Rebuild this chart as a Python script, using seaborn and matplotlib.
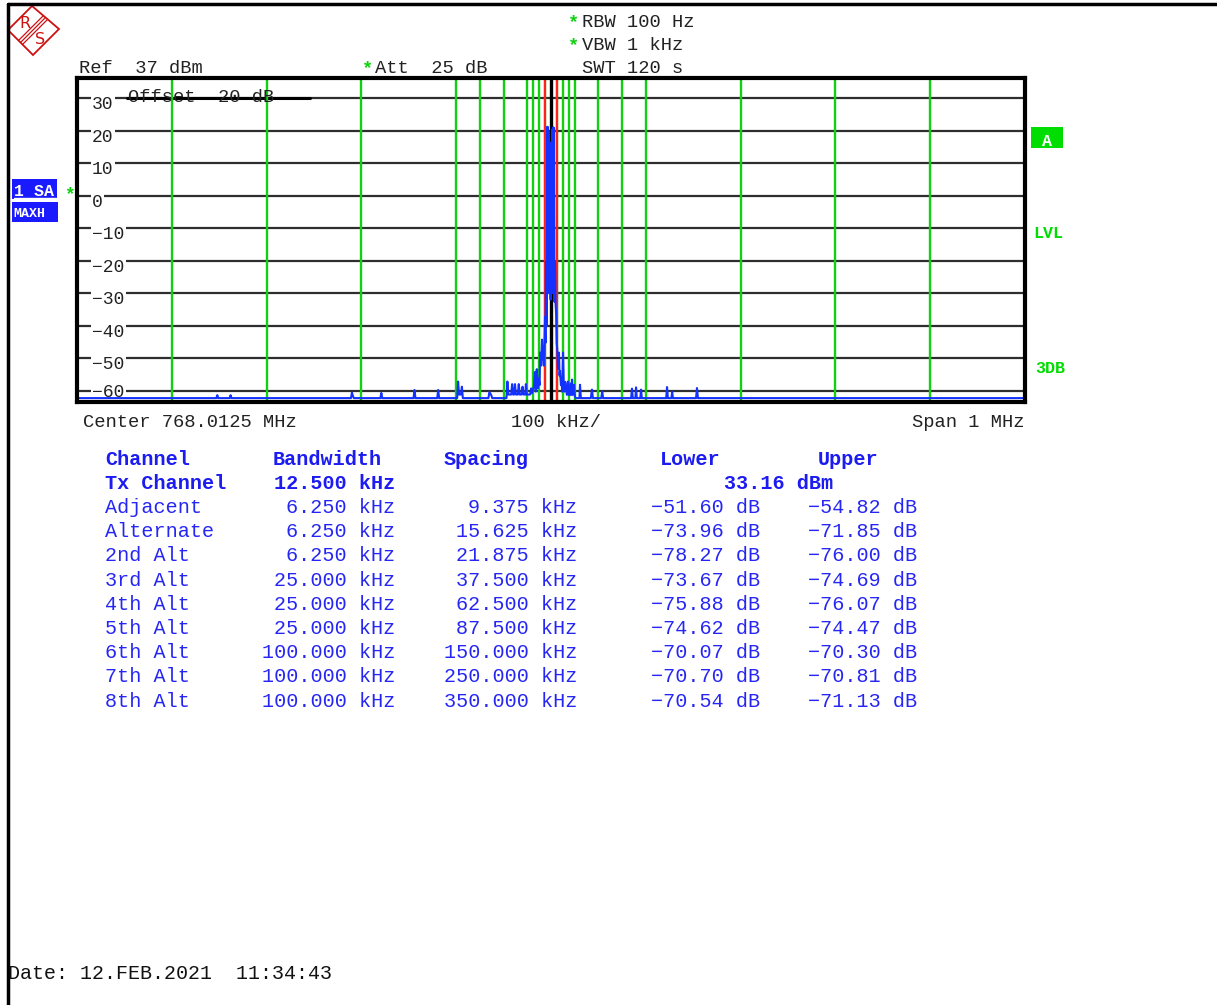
import matplotlib
matplotlib.use("Agg")
import matplotlib.pyplot as plt
from matplotlib.patches import Polygon, Rectangle
from matplotlib.lines import Line2D
import seaborn as sns

# ---------------- data ----------------
center_mhz = 768.0125
span_khz = 1000
y_ticks = [30, 20, 10, 0, -10, -20, -30, -40, -50, -60]
ref_text = "Ref  37 dBm"
att_text = "Att  25 dB"
offset_text = "Offset  20 dB"
rbw_text = "RBW 100 Hz"
vbw_text = "VBW 1 kHz"
swt_text = "SWT 120 s"
date_text = "Date: 12.FEB.2021  11:34:43"

# max-hold trace (offset from centre in kHz, level in dBm)
trace_khz = [
    -500, -353, -352, -351, -339, -338, -337,
    -211, -210, -209, -208, -180, -179, -178,
    -145, -144, -143, -120, -119, -118,
    -99, -98, -97, -95, -94, -93,
    -66, -65, -63, -62,
    -47, -46, -45, -42, -41, -40, -39, -38, -37, -35, -34, -33, -31, -30, -29, -27, -26.5, -25.5,
    -22, -21, -20, -18, -17, -16, -15, -14, -13, -12, -11.5, -10.5, -9.5, -8.8, -8.4, -7.6, -7.0, -6.3, -5.8, -5.3, -4.8, -4.3,
    -3.9, -3.5, -3.2, -2.8, -2.4, -2.0, -1.6, -1.2, -0.8, -0.4, 0.0, 0.4, 0.8, 1.2, 1.6, 2.0, 2.4, 2.8, 3.2, 3.6,
    4.2, 4.8, 5.4, 6.0, 6.6, 7.4, 8.4, 9.0, 9.5, 10.5, 11.0, 11.8, 12.7, 13.5, 14.2, 15.0, 15.8, 16.8, 17.9, 18.8, 20.0, 20.8, 21.5, 22.2, 23.0, 24.3, 25.2, 26.0,
    30.0, 30.6, 31.5, 42.0, 43.2, 44.2, 53.0, 54.0, 55.0,
    84.5, 85.4, 86.3, 89.0, 89.7, 90.5, 94.2, 95.0, 95.8,
    121.5, 122.4, 123.3, 127.0, 127.8, 128.6, 153.0, 154.0, 155.0, 500,
]
trace_dbm = [
    -62.3, -62.3, -61.4, -62.3, -62.3, -61.4, -62.3,
    -62.3, -60.6, -61.6, -62.3, -62.3, -60.7, -62.3,
    -62.3, -59.8, -62.3, -62.3, -59.8, -62.3,
    -62.3, -57.2, -61.2, -61.2, -58.8, -62.3,
    -62.3, -60.4, -61.4, -62.3,
    -62.3, -57.2, -61.2, -61.2, -58.0, -61.2, -61.2, -58.0, -61.2, -61.2, -58.0, -61.2, -61.2, -58.8, -61.2, -61.2, -58.0, -61.2,
    -61.2, -59.3, -60.8, -58.8, -54.3, -60.3, -53.4, -59.3, -56.3, -58.3, -48.3, -52.3, -44.3, -50.3, -46.3, -52.3, -46.3, -37.3, -45.3, -20.3, -40.3, -28.3,
    21.2, -25.0, 21.0, -20.0, 19.5, -30.0, 16.5, -28.0, 13.8, -32.0, 13.5, -25.0, 15.5, -30.0, 20.5, -22.0, 21.0, -28.0, 20.8, -32.6,
    -20.3, -33.0, -36.3, -45.3, -47.3, -53.3, -48.3, -55.3, -54.0, -58.3, -56.4, -60.3, -48.3, -58.3, -60.3, -57.3, -59.3, -61.3, -57.2, -61.3, -61.3, -57.8, -61.3, -56.6, -61.3, -58.2, -61.8, -62.3,
    -62.3, -58.2, -62.3, -62.3, -59.7, -62.3, -62.3, -60.3, -62.3,
    -62.3, -59.4, -62.3, -62.3, -59.0, -62.3, -62.3, -59.7, -62.3,
    -62.3, -58.9, -62.3, -62.3, -60.4, -62.3, -62.3, -59.2, -62.3, -62.3,
]
assert len(trace_khz) == len(trace_dbm)

channel_names = ["Tx Channel", "Adjacent", "Alternate", "2nd Alt", "3rd Alt",
                 "4th Alt", "5th Alt", "6th Alt", "7th Alt", "8th Alt"]
bandwidth_khz = [12.5, 6.25, 6.25, 6.25, 25.0, 25.0, 25.0, 100.0, 100.0, 100.0]
spacing_khz = [0.0, 9.375, 15.625, 21.875, 37.5, 62.5, 87.5, 150.0, 250.0, 350.0]
lower_db = [-51.60, -73.96, -78.27, -73.67, -75.88, -74.62, -70.07, -70.70, -70.54]
upper_db = [-54.82, -71.85, -76.00, -74.69, -76.07, -74.47, -70.30, -70.81, -71.13]
tx_power_dbm = 33.16

# ---------------- style ----------------
sns.set_theme(style="white")
MONO = ["Liberation Mono", "DejaVu Sans Mono"]
plt.rcParams["font.family"] = MONO

W, H = 1217, 1005
fig = plt.figure(figsize=(W / 100, H / 100), dpi=100)
fig.patch.set_facecolor("white")


def fx(x):
    return x / W


def fy(y):
    return 1 - y / H


def ftext(x, y, s, **kw):
    kw.setdefault("va", "baseline")
    kw.setdefault("family", MONO)
    return fig.text(fx(x), fy(y), s, **kw)


def mstr(s):
    return s.replace("-", "\u2212")


GREEN = "#10d010"
RED = "#ff2020"
BLUE = "#1432ff"
TBLUE = "#1c1cf0"
GRID = "#2e2e2e"

ax = fig.add_axes([fx(77), fy(402), 948 / W, 324 / H])
ax.set_xlim(-span_khz / 2, span_khz / 2)
ax.set_ylim(-63.5, 36.2)
ax.set_xticks([])
ax.set_yticks([])
ax.set_facecolor("white")
for s in ax.spines.values():
    s.set_linewidth(3)
    s.set_color("black")
    s.set_zorder(10)

for v in y_ticks:
    ax.axhline(v, color=GRID, lw=1.6, zorder=1)
ax.axhline(30, xmin=(127 - 77) / 948, xmax=(310 - 77) / 948, color="black", lw=2.2, zorder=2)

# channel edges from spacing / bandwidth
edges = set()
for sp, bw in zip(spacing_khz[1:], bandwidth_khz[1:]):
    edges.add(sp - bw / 2)
    edges.add(sp + bw / 2)
for e in sorted(edges):
    ax.axvline(e, color=GREEN, lw=1.7, zorder=2)
    ax.axvline(-e, color=GREEN, lw=1.7, zorder=2)
tx_half = bandwidth_khz[0] / 2
ax.axvline(-tx_half, color=RED, lw=1.6, zorder=3)
ax.axvline(tx_half, color=RED, lw=1.6, zorder=3)
ax.axvline(0, color="black", lw=2.4, zorder=3)

sns.lineplot(x=trace_khz, y=trace_dbm, ax=ax, estimator=None, sort=False,
             color=BLUE, lw=1.5, zorder=6)

# y labels inside the plot
for v in y_ticks:
    off = 1.9 if v == y_ticks[-1] else 3.4
    ax.text(-484, v - off, mstr(str(v)), fontsize=13, family=MONO, va="baseline",
            ha="left", color="#222222", zorder=4,
            bbox=dict(facecolor="white", edgecolor="none", pad=1.0))
ax.text(-446, 30 - 1.2, offset_text, fontsize=13.5, family=MONO, va="baseline",
        ha="left", color="#222222", zorder=4)

# header
ftext(79, 73, ref_text, fontsize=13.5, color="#222222")
ftext(362, 73, "*", fontsize=13.5, color=GREEN, weight="bold")
ftext(375, 73, att_text, fontsize=13.5, color="#222222")
ftext(568, 27, "*", fontsize=13.5, color=GREEN, weight="bold")
ftext(582, 27, rbw_text, fontsize=13.5, color="#222222")
ftext(568, 50, "*", fontsize=13.5, color=GREEN, weight="bold")
ftext(582, 50, vbw_text, fontsize=13.5, color="#222222")
ftext(582, 73, swt_text, fontsize=13.5, color="#222222")

# x labels
ftext(83, 427, f"Center {center_mhz} MHz", fontsize=13.5, color="#222222")
ftext(511, 427, f"{span_khz / 10:.0f} kHz/", fontsize=13.5, color="#222222")
ftext(1025, 427, f"Span {span_khz / 1000:.0f} MHz", fontsize=13.5, color="#222222", ha="right")

# left trace indicators
fig.add_artist(Rectangle((fx(12), fy(199)), 45 / W, 20 / H, transform=fig.transFigure,
                         facecolor="#1a1aff", edgecolor="none"))
fig.add_artist(Rectangle((fx(12), fy(222)), 46 / W, 20 / H, transform=fig.transFigure,
                         facecolor="#1a1aff", edgecolor="none"))
ftext(14, 196, "1 SA", fontsize=12, color="white", weight="bold")
fig.add_artist(Line2D([fx(14), fx(56)], [fy(198), fy(198)], transform=fig.transFigure,
                      color="white", lw=1))
ftext(13, 217, "MAXH", fontsize=9.5, color="white", weight="bold")
ftext(64, 199, "*", fontsize=13, color=GREEN, weight="bold")

# right side indicators
fig.add_artist(Rectangle((fx(1031), fy(148)), 32 / W, 21 / H, transform=fig.transFigure,
                         facecolor="#00dd00", edgecolor="none"))
ftext(1047, 146, "A", fontsize=12, color="white", weight="bold", ha="center")
ftext(1033, 238, "LVL", fontsize=12, color="#00dd00", weight="bold")
ftext(1035, 373, "3DB", fontsize=12, color="#00dd00", weight="bold")

# channel power table
TS = 14.5
ftext(105, 465, "Channel", fontsize=TS, color=TBLUE, weight="bold")
ftext(273, 465, "Bandwidth", fontsize=TS, color=TBLUE, weight="bold")
ftext(444, 465, "Spacing", fontsize=TS, color=TBLUE, weight="bold")
ftext(660, 465, "Lower", fontsize=TS, color=TBLUE, weight="bold")
ftext(818, 465, "Upper", fontsize=TS, color=TBLUE, weight="bold")
ftext(105, 489, channel_names[0], fontsize=TS, color=TBLUE, weight="bold")
ftext(395, 489, f"{bandwidth_khz[0]:.3f} kHz", fontsize=TS, color=TBLUE, weight="bold", ha="right")
ftext(833, 489, f"{tx_power_dbm:.2f} dBm", fontsize=TS, color=TBLUE, weight="bold", ha="right")
for i in range(1, len(channel_names)):
    yb = 513 + 24.2 * (i - 1)
    ftext(105, yb, channel_names[i], fontsize=TS, color="#2626f4")
    ftext(395, yb, f"{bandwidth_khz[i]:.3f} kHz", fontsize=TS, color="#2626f4", ha="right")
    ftext(577, yb, f"{spacing_khz[i]:.3f} kHz", fontsize=TS, color="#2626f4", ha="right")
    ftext(760, yb, mstr(f"{lower_db[i - 1]:.2f} dB"), fontsize=TS, color="#2626f4", ha="right")
    ftext(917, yb, mstr(f"{upper_db[i - 1]:.2f} dB"), fontsize=TS, color="#2626f4", ha="right")

# date
ftext(8, 979, date_text, fontsize=14.4, color="#111111")

# outer frame
fig.add_artist(Line2D([fx(8), fx(1217)], [fy(4), fy(4)], transform=fig.transFigure,
                      color="black", lw=2.5))
fig.add_artist(Line2D([fx(8), fx(8)], [fy(4), fy(1005)], transform=fig.transFigure,
                      color="black", lw=2.5))

# R&S logo
LR = "#cc1111"
diamond = [(8, 30), (32, 6), (59, 29), (33, 55)]
fig.add_artist(Polygon([(fx(a), fy(b)) for a, b in diamond], closed=True,
                       transform=fig.transFigure, facecolor="white", edgecolor=LR, lw=1.3))
for d in (-2.0, 0, 2.0):
    fig.add_artist(Line2D([fx(45.5 + d), fx(20.5 + d)], [fy(17.5 + d), fy(42.5 + d)],
                          transform=fig.transFigure, color=LR, lw=0.9))
ftext(25, 28, "R", fontsize=11.5, color=LR, ha="center", family=["DejaVu Sans"])
ftext(40, 44, "S", fontsize=11.5, color=LR, ha="center", family=["DejaVu Sans"])

fig.savefig("out.png", dpi=100, facecolor="white")
